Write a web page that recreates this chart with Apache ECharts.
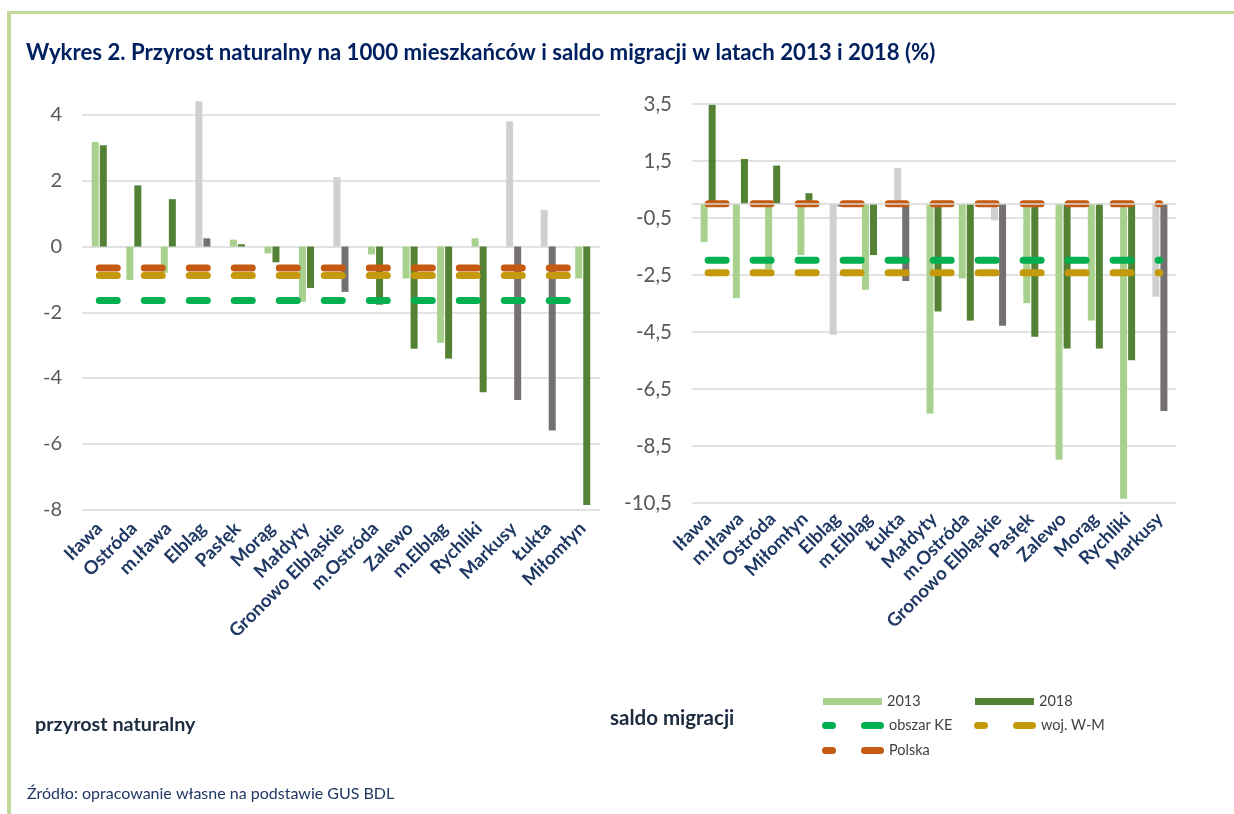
<!DOCTYPE html>
<html>
<head>
<meta charset="utf-8">
<script src="https://cdn.jsdelivr.net/npm/echarts@6/dist/echarts.min.js"></script>
<style>
html,body{margin:0;padding:0;background:#fff;}
#chart{width:1234px;height:814px;}
</style>
</head>
<body>
<div id="chart"></div>
<script>
// ---- data ----
const categoriesNatural = ['Iława','Ostróda','m.Iława','Elbląg','Pasłęk','Morąg','Małdyty','Gronowo Elbląskie','m.Ostróda','Zalewo','m.Elbląg','Rychliki','Markusy','Łukta','Miłomłyn'];
const natural2013 = [3.18,-1.02,-0.8,4.42,0.21,-0.21,-1.68,2.11,-0.24,-0.97,-2.93,0.25,3.81,1.11,-0.97];
const natural2018 = [3.08,1.86,1.44,0.25,0.07,-0.48,-1.26,-1.38,-1.77,-3.11,-3.41,-4.43,-4.67,-5.60,-7.86];
const naturalKE = [-1.64,-1.64,-1.64,-1.64,-1.64,-1.64,-1.64,-1.64,-1.64,-1.64,-1.64,-1.64,-1.64,-1.64,-1.64];
const naturalWM = [-0.88,-0.88,-0.88,-0.88,-0.88,-0.88,-0.88,-0.88,-0.88,-0.88,-0.88,-0.88,-0.88,-0.88,-0.88];
const naturalPL = [-0.65,-0.65,-0.65,-0.65,-0.65,-0.65,-0.65,-0.65,-0.65,-0.65,-0.65,-0.65,-0.65,-0.65,-0.65];

const categoriesMigration = ['Iława','m.Iława','Ostróda','Miłomłyn','Elbląg','m.Elbląg','Łukta','Małdyty','m.Ostróda','Gronowo Elbląskie','Pasłęk','Zalewo','Morąg','Rychliki','Markusy'];
const migration2013 = [-1.34,-3.31,-2.3,-1.8,-4.6,-3.02,1.26,-7.36,-2.62,-0.58,-3.49,-8.98,-4.1,-10.35,-3.26];
const migration2018 = [3.47,1.57,1.34,0.37,-0.1,-1.8,-2.71,-3.78,-4.1,-4.28,-4.67,-5.08,-5.08,-5.49,-7.27];
const migrationKE = [-1.98,-1.98,-1.98,-1.98,-1.98,-1.98,-1.98,-1.98,-1.98,-1.98,-1.98,-1.98,-1.98,-1.98,-1.98];
const migrationWM = [-2.42,-2.42,-2.42,-2.42,-2.42,-2.42,-2.42,-2.42,-2.42,-2.42,-2.42,-2.42,-2.42,-2.42,-2.42];
const migrationPL = [0,0,0,0,0,0,0,0,0,0,0,0,0,0,0];

// rural communes drawn in grey
const greyCategories = ['Elbląg','Gronowo Elbląskie','Markusy','Łukta'];

const naturalTicks = {min:-8, max:4.5, interval:2};
const migrationTicks = {min:-10.5, max:3.5, interval:2};

// ---- styles ----
const FONT = 'Lato, "Open Sans", sans-serif';
const C2013 = '#a9d18e', C2018 = '#548235', G2013 = '#d0d0d0', G2018 = '#767171';
const CKE = '#00b050', CWM = '#c49a0c', CPL = '#c55a11';
const DASH_ICON = 'path://M3.5,0 H10.5 A3.5,3.5 0 0 1 10.5,7 H3.5 A3.5,3.5 0 0 1 3.5,0 Z M42.5,0 H58.5 A3.5,3.5 0 0 1 58.5,7 H42.5 A3.5,3.5 0 0 1 42.5,0 Z';

function barData(cats, vals, normal, grey) {
  return vals.map((v, i) => ({value: v, itemStyle: {color: greyCategories.includes(cats[i]) ? grey : normal}}));
}
function fmt(v) { return String(v).replace('.', ','); }

function xAxis(grid, cats, margin) {
  return {
    type: 'category', gridIndex: grid, data: cats,
    axisLine: {show: false, onZero: false}, axisTick: {show: false},
    axisLabel: {rotate: 45, interval: 0, margin: margin, fontFamily: FONT, fontWeight: 'bold', fontSize: 18.5, color: '#1f3864'}
  };
}
function yAxis(grid, t, showMax, fs) {
  return {
    type: 'value', gridIndex: grid, min: t.min, max: t.max, interval: t.interval,
    axisLine: {show: false}, axisTick: {show: false},
    splitLine: {show: true, showMaxLine: showMax, lineStyle: {color: '#d9d9d9', width: 1.5}},
    axisLabel: {showMaxLabel: showMax, margin: 20, fontFamily: FONT, fontSize: fs, color: '#595959', formatter: fmt}
  };
}
const dash = {width: 7, type: [18, 27], cap: 'round'};
function lineSeries(name, data, color, grid) {
  return {
    name, type: 'line', xAxisIndex: grid, yAxisIndex: grid, data, symbol: 'none', z: 3, silent: true,
    lineStyle: Object.assign({color}, dash), itemStyle: {color}
  };
}
function barSeries(name, data, grid, extra) {
  return Object.assign({
    name, type: 'bar', xAxisIndex: grid, yAxisIndex: grid, data, barWidth: 7, barGap: '15%', z: 2
  }, extra || {});
}

const legendBase = {orient: 'horizontal', selectedMode: false, itemGap: 0, textStyle: {fontFamily: FONT, fontSize: 14.5, color: '#404040', padding: [0, 0, 0, 0]}};

const option = {
  animation: false,
  backgroundColor: '#fff',
  grid: [
    {left: 82, width: 518, top: 98.6, height: 410.9},
    {left: 692, width: 484, top: 104, height: 399}
  ],
  xAxis: [xAxis(0, categoriesNatural, 16), xAxis(1, categoriesMigration, 13)],
  yAxis: [yAxis(0, naturalTicks, false, 20), yAxis(1, migrationTicks, true, 20.5)],
  legend: [
    Object.assign({}, legendBase, {left: 818, top: 689, data: [{name: '2013', icon: 'rect'}], itemWidth: 59, itemHeight: 7}),
    Object.assign({}, legendBase, {left: 970, top: 689, data: [{name: '2018', icon: 'rect'}], itemWidth: 59, itemHeight: 7}),
    Object.assign({}, legendBase, {left: 817, top: 713, data: [{name: 'obszar KE', icon: DASH_ICON}], itemWidth: 62, itemHeight: 7}),
    Object.assign({}, legendBase, {left: 969, top: 713, data: [{name: 'woj. W-M', icon: DASH_ICON}], itemWidth: 62, itemHeight: 7}),
    Object.assign({}, legendBase, {left: 817, top: 738, data: [{name: 'Polska', icon: DASH_ICON}], itemWidth: 62, itemHeight: 7})
  ],
  series: [
    barSeries('2013', barData(categoriesNatural, natural2013, C2013, G2013), 0, {itemStyle: {color: C2013}}),
    barSeries('2018', barData(categoriesNatural, natural2018, C2018, G2018), 0, {itemStyle: {color: C2018}}),
    lineSeries('obszar KE', naturalKE, CKE, 0),
    lineSeries('woj. W-M', naturalWM, CWM, 0),
    lineSeries('Polska', naturalPL, CPL, 0),
    barSeries('2013', barData(categoriesMigration, migration2013, C2013, G2013), 1, {
      itemStyle: {color: C2013},
      markLine: {silent: true, symbol: 'none', label: {show: false}, lineStyle: {color: '#d9d9d9', width: 1.5, type: 'solid'}, data: [{yAxis: 0}]}
    }),
    barSeries('2018', barData(categoriesMigration, migration2018, C2018, G2018), 1, {itemStyle: {color: C2018}}),
    lineSeries('obszar KE', migrationKE, CKE, 1),
    lineSeries('woj. W-M', migrationWM, CWM, 1),
    lineSeries('Polska', migrationPL, CPL, 1)
  ],
  graphic: [
    {type: 'rect', shape: {x: 7, y: 11, width: 1240, height: 3}, style: {fill: '#c3d69b'}, silent: true},
    {type: 'rect', shape: {x: 7, y: 11, width: 4, height: 810}, style: {fill: '#c3d69b'}, silent: true},
    {type: 'text', left: 26, top: 42, style: {text: 'Wykres 2. Przyrost naturalny na 1000 mieszkańców i saldo migracji w latach 2013 i 2018 (%)', font: 'bold 22.2px ' + FONT, fill: '#002060'}},
    {type: 'text', left: 35, top: 715, style: {text: 'przyrost naturalny', font: 'bold 19.8px ' + FONT, fill: '#1c2b3e'}},
    {type: 'text', left: 610, top: 708, style: {text: 'saldo migracji', font: 'bold 20.5px ' + FONT, fill: '#1c2b3e'}},
    {type: 'text', left: 27, top: 786, style: {text: 'Źródło: opracowanie własne na podstawie GUS BDL', font: '16px ' + FONT, fill: '#1f3864'}}
  ]
};

const chart = echarts.init(document.getElementById('chart'), null, {renderer: 'canvas'});
chart.setOption(option);
</script>
</body>
</html>
